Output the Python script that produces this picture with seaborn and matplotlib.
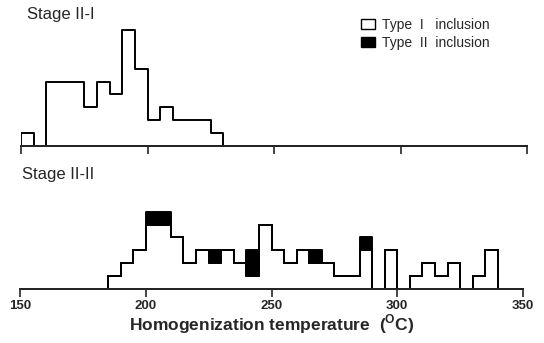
import numpy as np
import pandas as pd
import matplotlib
matplotlib.use("Agg")
import matplotlib.pyplot as plt
from matplotlib.patches import Patch
import seaborn as sns

# ---- data (counts per 5 degC bin) ----
bin_edges = list(range(150, 355, 5))

stage1_left = [150, 155, 160, 165, 170, 175, 180, 185, 190, 195, 200, 205, 210, 215, 220, 225]
stage1_type1 = [1, 0, 5, 5, 5, 3, 5, 4, 9, 6, 2, 3, 2, 2, 2, 1]

stage2_left = [185, 190, 195, 200, 205, 210, 215, 220, 225, 230, 235, 240, 245, 250, 255,
               260, 265, 270, 275, 280, 285, 290, 295, 300, 305, 310, 315, 320, 325, 330, 335]
stage2_type1 = [1, 2, 3, 5, 5, 4, 2, 3, 2, 3, 2, 1, 5, 3, 2,
                3, 2, 2, 1, 1, 3, 0, 3, 0, 1, 2, 1, 2, 0, 1, 3]
stage2_type2_left = [200, 205, 225, 240, 265, 285]
stage2_type2 = [1, 1, 1, 2, 1, 1]

xticks = [150, 200, 250, 300, 350]
xlabel = r"Homogenization temperature  ($^{\mathbf{O}}$C)"
title_top = "Stage II-I"
title_bottom = "Stage II-II"
legend_labels = ["Type  I   inclusion", "Type  II  inclusion"]

# ---- frames ----
df1 = pd.DataFrame({"T": np.array(stage1_left) + 2.5, "n": stage1_type1})
df2 = pd.concat([
    pd.DataFrame({"T": np.array(stage2_left) + 2.5, "n": stage2_type1, "type": "Type I"}),
    pd.DataFrame({"T": np.array(stage2_type2_left) + 2.5, "n": stage2_type2, "type": "Type II"}),
], ignore_index=True)

sns.set_style("ticks")
plt.rcParams["font.family"] = ["Liberation Sans", "DejaVu Sans"]
plt.rcParams["mathtext.fontset"] = "custom"
plt.rcParams["mathtext.rm"] = "Liberation Sans"
plt.rcParams["mathtext.bf"] = "Liberation Sans:bold"

W, H = 544, 343
fig = plt.figure(figsize=(W / 100, H / 100), dpi=100)
unit = 12.9  # px per count

# top axes
t_base, t_left, t_right = 146, 21, 527
t_ymax = 10
ax1 = fig.add_axes([t_left / W, (H - t_base) / H, (t_right - t_left) / W, t_ymax * unit / H])
# bottom axes
b_base, b_left, b_right = 289, 20, 523
b_ymax = 8
ax2 = fig.add_axes([b_left / W, (H - b_base) / H, (b_right - b_left) / W, b_ymax * unit / H])

lw = 1.4
sns.histplot(data=df1, x="T", weights="n", bins=bin_edges, element="step", fill=True,
             color="white", edgecolor="black", linewidth=lw, alpha=1, ax=ax1)

# in seaborn's stack the first hue level ends up on top
sns.histplot(data=df2, x="T", weights="n", hue="type", hue_order=["Type II", "Type I"],
             palette={"Type I": "white", "Type II": "black"}, bins=bin_edges,
             element="step", multiple="stack", fill=True, edgecolor="black",
             linewidth=lw, alpha=1, legend=False, ax=ax2)

for ax, ymax in ((ax1, t_ymax), (ax2, b_ymax)):
    ax.set_xlim(150, 350)
    ax.set_ylim(0, ymax)
    ax.set_xticks(xticks)
    ax.set_yticks([])
    ax.set_ylabel("")
    ax.set_xlabel("")
    sns.despine(ax=ax, left=True, top=True, right=True)
    ax.spines["bottom"].set_linewidth(1.4)
    ax.tick_params(axis="x", direction="out", length=5.5, width=1.2, pad=2.5)
    ax.patch.set_alpha(0)

ax1.set_xticklabels([])
ax2.set_xticklabels([str(t) for t in xticks], fontsize=9.5, fontweight="bold")
ax2.set_xlabel(xlabel, fontsize=12.5, fontweight="bold", labelpad=0.5)

fig.text(27 / W, 1 - 15 / H, title_top, fontsize=12, va="center", ha="left")
fig.text(22 / W, 1 - 175 / H, title_bottom, fontsize=12, va="center", ha="left")

handles = [Patch(facecolor="white", edgecolor="black", linewidth=1.0),
           Patch(facecolor="black", edgecolor="black", linewidth=1.0)]
fig.legend(handles, legend_labels, loc="upper left", bbox_to_anchor=(361 / W, 1 - 18 / H),
           frameon=False, fontsize=10, handlelength=1.0, handleheight=0.72,
           handletextpad=0.5, labelspacing=0.3, borderpad=0, borderaxespad=0)

fig.savefig("out.png", dpi=100)
